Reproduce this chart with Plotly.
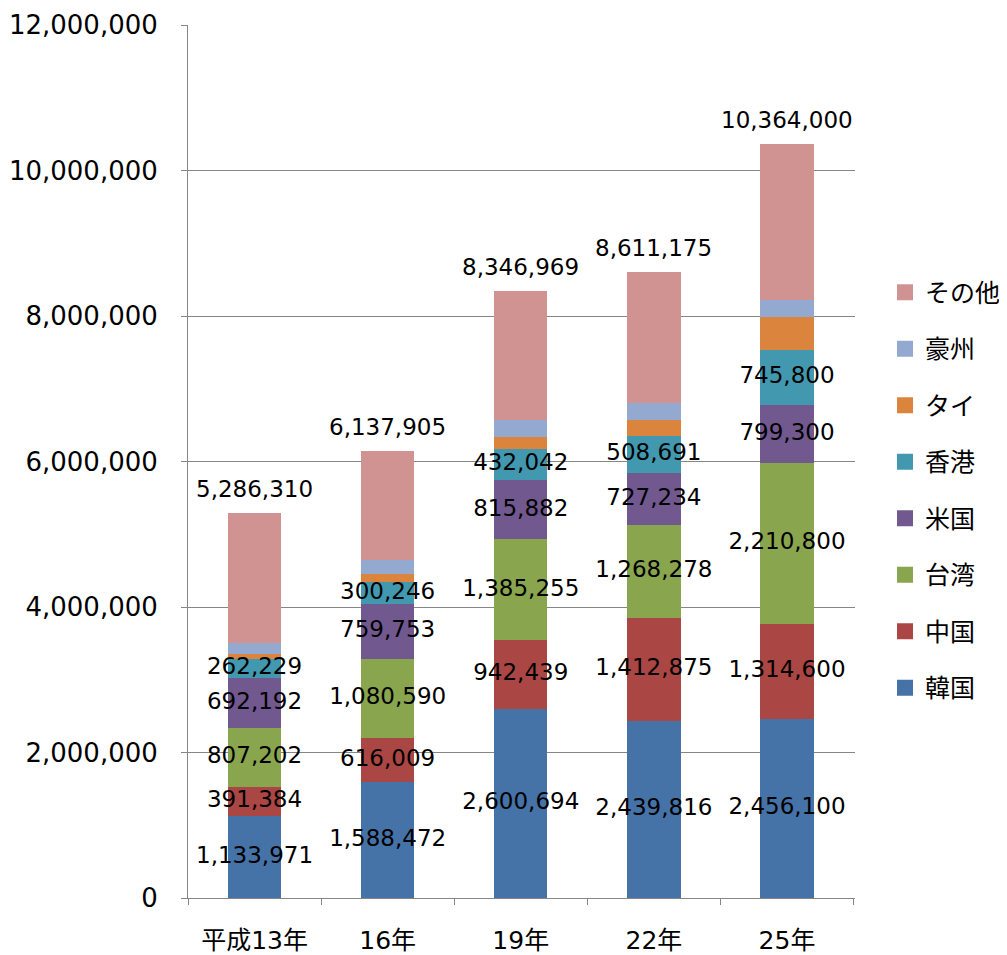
import plotly.graph_objects as go

categories = ["平成13年", "16年", "19年", "22年", "25年"]
series_names = ["韓国", "中国", "台湾", "米国", "香港", "タイ", "豪州", "その他"]
korea = [1133971, 1588472, 2600694, 2439816, 2456100]
china = [391384, 616009, 942439, 1412875, 1314600]
taiwan = [807202, 1080590, 1385255, 1268278, 2210800]
usa = [692192, 759753, 815882, 727234, 799300]
hongkong = [262229, 300246, 432042, 508691, 745800]
thailand = [65000, 104000, 167000, 215000, 453600]
australia = [151000, 194000, 223000, 226000, 244600]
totals = [5286310, 6137905, 8346969, 8611175, 10364000]
labeled = [korea, china, taiwan, usa, hongkong]
others = [t - sum(v[i] for v in labeled) - thailand[i] - australia[i]
          for i, t in enumerate(totals)]
values = [korea, china, taiwan, usa, hongkong, thailand, australia, others]
colors = ["#4572A7", "#AA4643", "#89A54E", "#71588F", "#4198AF",
          "#DB843D", "#93A9CF", "#D19392"]
y_ticks = [0, 2000000, 4000000, 6000000, 8000000, 10000000, 12000000]

FONT = "DejaVu Sans, Noto Sans CJK JP, sans-serif"

fig = go.Figure()
for i, (name, vals, col) in enumerate(zip(series_names, values, colors)):
    fig.add_trace(go.Bar(x=categories, y=vals, name=name, marker_color=col,
                         marker_line_width=0, showlegend=False))

# legend entries (square markers), top-to-bottom reversed
for i, (name, col) in enumerate(zip(series_names, colors)):
    fig.add_trace(go.Scatter(x=[None], y=[None], mode="markers", name=name,
                             marker=dict(symbol="square", size=18, color=col),
                             legendgroup=name, legendrank=1000 - i,
                             showlegend=True, hoverinfo="skip"))

# segment labels for labelled series
base = [0] * len(categories)
for vals in values:
    mids = [b + v / 2 for b, v in zip(base, vals)]
    if any(vals is l for l in labeled):
        fig.add_trace(go.Scatter(x=categories, y=mids, mode="text",
                                 text=[f"{v:,}" for v in vals],
                                 textposition="middle center",
                                 textfont=dict(size=23, color="#000000", family=FONT),
                                 showlegend=False, hoverinfo="skip"))
    base = [b + v for b, v in zip(base, vals)]

for c, t in zip(categories, totals):
    fig.add_annotation(x=c, y=t, text=f"{t:,}", showarrow=False, yshift=24,
                       font=dict(size=23, color="#000000", family=FONT))

fig.update_layout(
    barmode="stack",
    bargap=0.6,
    width=999, height=947,
    margin=dict(l=180, r=152, t=17, b=57, autoexpand=False),
    plot_bgcolor="white", paper_bgcolor="white",
    font=dict(family=FONT, color="#000000"),
    legend=dict(x=1.045, y=0.72, xanchor="left", yanchor="top",
                traceorder="grouped", tracegroupgap=21,
                itemsizing="trace",
                font=dict(size=25, family=FONT), itemwidth=30),
    showlegend=True,
)
fig.update_yaxes(range=[0, 12000000], tickvals=y_ticks,
                 ticktext=[f"{v:,}" for v in y_ticks],
                 showgrid=True, gridcolor="#868686", gridwidth=1,
                 showline=True, linecolor="#868686", linewidth=1,
                 ticks="outside", ticklen=6, tickcolor="#868686",
                 ticklabelstandoff=18, automargin=False,
                 tickfont=dict(size=26, family=FONT), zeroline=False)
fig.update_xaxes(showline=True, linecolor="#868686", linewidth=1,
                 ticks="outside", ticklen=6, tickcolor="#868686",
                 tickson="boundaries", ticklabelstandoff=20, automargin=False,
                 tickfont=dict(size=25, family=FONT))

fig.write_html("out.html")
